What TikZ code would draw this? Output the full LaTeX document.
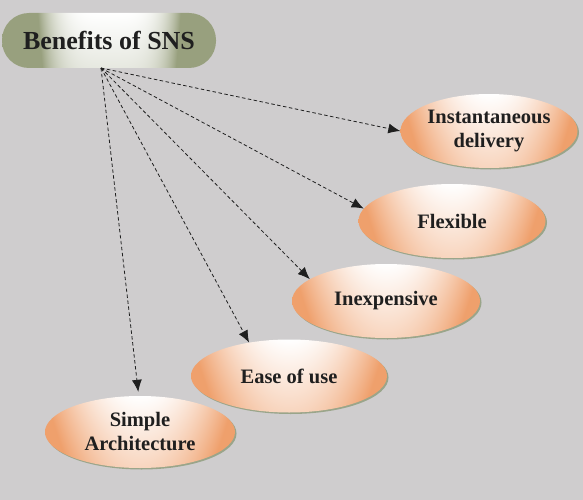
\documentclass[tikz,border=0pt]{standalone}
\usepackage{fontspec}
\setmainfont{Liberation Serif}
\usetikzlibrary{arrows.meta,shapes.geometric,shadows}
\definecolor{bg}{HTML}{CFCDCE}
\definecolor{shd}{HTML}{9AA58A}
% orange (0.937,0.627,0.424): t=min(1,u^2+0.22(1-v))
\pgfdeclarefunctionalshading{ellshade}{\pgfpoint{-50bp}{-50bp}}{\pgfpoint{50bp}{50bp}}{}{%
  25 div exch 25 div dup mul exch 1 exch sub 0.22 mul add
  dup 1 sub abs 1 exch sub add 2 div
  dup 0.063 mul 1 exch sub exch dup 0.373 mul 1 exch sub exch 0.576 mul 1 exch sub}
% sage (0.596,0.627,0.494): t=min(1,5u^4+0.12(1-v))
\pgfdeclarefunctionalshading{titleshade}{\pgfpoint{-50bp}{-50bp}}{\pgfpoint{50bp}{50bp}}{}{%
  25 div exch 25 div dup mul dup mul 5 mul exch 1 exch sub 0.12 mul add
  dup 1 sub abs 1 exch sub add 2 div
  dup 0.404 mul 1 exch sub exch dup 0.373 mul 1 exch sub exch 0.506 mul 1 exch sub}
\tikzset{
  benefit/.style={ellipse, shading=ellshade, inner sep=0pt,
    drop shadow={shadow xshift=1.5pt, shadow yshift=-1.5pt, fill=shd, opacity=1},
    font=\bfseries\fontsize{20.5}{24}\selectfont, text=black!88, align=center},
  titlebox/.style={rounded corners=27pt, shading=titleshade, minimum width=214pt,
    minimum height=55pt, font=\bfseries\fontsize{26}{28}\selectfont, text=black!88},
  conn/.style={dashed, dash pattern=on 3.5pt off 2.5pt, line width=0.8pt, black!88,
    -{Latex[length=12pt,width=10pt]}}
}
\begin{document}
\begin{tikzpicture}[x=1pt,y=-1pt]
  \fill[bg] (0,0) rectangle (583,500);
  \useasboundingbox (0,0) rectangle (583,500);
  \node[titlebox] (title) at (109,40.5) {Benefits of SNS};
  \coordinate (src) at (101,68);
  \node[benefit, minimum width=177pt, minimum height=74pt] (inst) at (489,131) {Instantaneous\\delivery};
  \node[benefit, minimum width=187pt, minimum height=74pt] (flex) at (452,221) {Flexible};
  \node[benefit, minimum width=188pt, minimum height=74pt] (inex) at (386,301) {Inexpensive};
  \node[benefit, minimum width=196pt, minimum height=73pt] (ease) at (289,376) {Ease of use};
  \node[benefit, minimum width=190pt, minimum height=72pt] (simp) at (140,432) {Simple\\Architecture};
  \draw[conn] (src) -- (inst.west);
  \draw[conn] (src) -- (flex.172);
  \draw[conn] (src) -- (inex.164);
  \draw[conn] (src) -- (ease.140);
  \draw[conn, shorten >=4pt] (src) -- (simp.92);
\end{tikzpicture}
\end{document}
